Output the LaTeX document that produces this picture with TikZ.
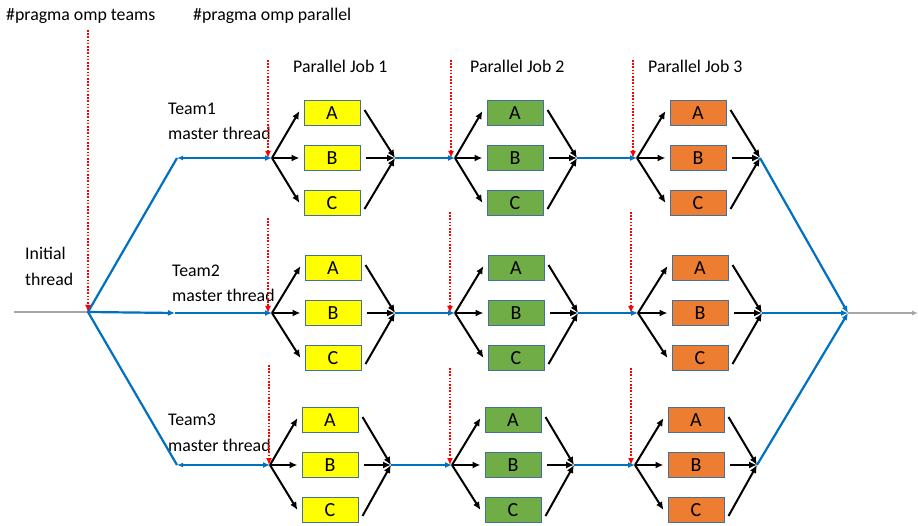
\documentclass[tikz,border=0pt]{standalone}
\usepackage{fontspec}
\setmainfont{Carlito}
\usetikzlibrary{arrows.meta}

\definecolor{flowblue}{HTML}{0070C0}
\definecolor{jobyellow}{HTML}{FFFF00}
\definecolor{jobgreen}{HTML}{70AD47}
\definecolor{joborange}{HTML}{ED7D31}
\definecolor{boxedge}{HTML}{41719C}
\definecolor{idlegray}{HTML}{A6A6A6}

\tikzset{
  lbl/.style={anchor=base west, inner sep=0pt, font=\fontsize{17.8}{20}\selectfont},
  taskbox/.style={draw=boxedge, line width=1pt, minimum width=56pt,
    minimum height=25pt, inner sep=0pt, font=\fontsize{20}{22}\selectfont},
  forkarrow/.style={black, line width=2pt, -{Latex[length=8pt,width=7pt]}},
  flow/.style={flowblue, line width=2.2pt},
  flowtip/.style={flow, -{Latex[length=7pt,width=6pt]}},
  idle/.style={idlegray, line width=2pt},
  marker/.style={red, line width=1.8pt, dash pattern=on 1.6pt off 1.6pt,
    -{Latex[length=7pt,width=6pt]}}
}

% #1 name, #2 fork x, #3 box centre x, #4 join x, #5 row y,
% #6 fill colour, #7 marker x, #8 marker top y
\newcommand{\jobgroup}[8]{%
  \coordinate (#1f) at (#2,#5);
  \coordinate (#1j) at (#4,#5);
  \coordinate (#1m) at (#7,#8);
  \node[taskbox, fill=#6] (#1A) at (#3,#5-45) {A};
  \node[taskbox, fill=#6] (#1B) at (#3,#5) {B};
  \node[taskbox, fill=#6] (#1C) at (#3,#5+45) {C};
  \draw[forkarrow] (#1f) -- ([xshift=-4pt,yshift=2pt]#1A.west);
  \draw[forkarrow] (#1f) -- ([xshift=-4pt]#1B.west);
  \draw[forkarrow] (#1f) -- ([xshift=-4pt]#1C.west);
  \draw[forkarrow] ([xshift=4pt,yshift=3pt]#1A.east) -- (#1j);
  \draw[forkarrow] ([xshift=5pt]#1B.east) -- (#1j);
  \draw[forkarrow] ([xshift=4pt,yshift=-6pt]#1C.east) -- (#1j);
  \draw[marker] (#1m) -- (#1m |- #1f);
}

\begin{document}
\begin{tikzpicture}[x=1pt, y=-1pt]
\useasboundingbox[fill=white] (0,0) rectangle (918,526);

% headings
\node[lbl] (hteams) at (6,21) {\#pragma omp teams};
\node[lbl] (hpar) at (193,21) {\#pragma omp parallel};
\node[lbl] (pj1) at (293,73) {Parallel Job 1};
\node[lbl] (pj2) at (470,73) {Parallel Job 2};
\node[lbl] (pj3) at (648,73) {Parallel Job 3};

% thread labels
\node[lbl] (init1) at (25,260) {Initial};
\node[lbl] (init2) at (25,286) {thread};
\node[lbl] (tm1) at (168,115) {Team1};
\node[lbl] (tm1b) at (168,140) {master thread};
\node[lbl] (tm2) at (172,277) {Team2};
\node[lbl] (tm2b) at (172,302) {master thread};
\node[lbl] (tm3) at (168,425) {Team3};
\node[lbl] (tm3b) at (168,451) {master thread};

% key points of the thread flow
\coordinate (start) at (14,312);
\coordinate (split) at (88,312);
\coordinate (teamsmark) at (88,30);
\coordinate (bend1) at (177,158);
\coordinate (bend2) at (175,313);
\coordinate (bend3) at (177,465);
\coordinate (merge) at (848,313);
\coordinate (finish) at (918,313);

% team 1
\jobgroup{t1a}{272}{332}{395}{158}{jobyellow}{268}{60}
\jobgroup{t1b}{455}{515}{577}{158}{jobgreen}{451}{60}
\jobgroup{t1c}{637}{698}{760}{158}{joborange}{633}{60}
% team 2
\jobgroup{t2a}{272}{333}{395}{313}{jobyellow}{268}{218}
\jobgroup{t2b}{455}{516}{578}{313}{jobgreen}{450}{212}
\jobgroup{t2c}{638}{700}{762}{313}{joborange}{631}{212}
% team 3
\jobgroup{t3a}{270}{330}{391}{465}{jobyellow}{269}{365}
\jobgroup{t3b}{452}{513}{574}{465}{jobgreen}{450}{368}
\jobgroup{t3c}{635}{696}{757}{465}{joborange}{631}{368}

% initial thread and team creation
\draw[idle] (start) -- (split);
\draw[flow] (split) -- (bend1);
\draw[flow, {Latex[length=6pt,width=5pt]}-{Latex[length=7pt,width=6pt]}] (bend1) -- (t1af);
\draw[flowtip] (split) -- (bend2);
\draw[flowtip] (bend2) -- (t2af);
\draw[flow] (split) -- (bend3);
\draw[flow, {Latex[length=6pt,width=5pt]}-{Latex[length=7pt,width=6pt]}] (bend3) -- (t3af);
\draw[marker] (teamsmark) -- (split);

% master threads between parallel jobs
\draw[flowtip] (t1aj) -- (t1bf);
\draw[flowtip] (t1bj) -- (t1cf);
\draw[flowtip] (t2aj) -- (t2bf);
\draw[flowtip] (t2bj) -- (t2cf);
\draw[flowtip] (t3aj) -- (t3bf);
\draw[flowtip] (t3bj) -- (t3cf);

% teams joining back
\draw[flowtip] (t1cj) -- (merge);
\draw[flowtip] (t2cj) -- (merge);
\draw[flowtip] (t3cj) -- (merge);
\draw[idle, -{Latex[length=6pt,width=5pt]}] (merge) -- (finish);
\end{tikzpicture}
\end{document}
